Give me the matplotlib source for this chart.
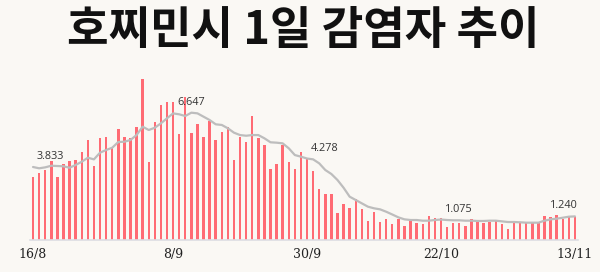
import matplotlib
matplotlib.use("Agg")
import matplotlib.pyplot as plt
import numpy as np

title = "호찌민시 1일 감염자 추이"

# daily cases, 16/8 .. 13/11 (90 days)
daily_cases = [
    3325, 3535, 3660, 4165, 3325, 4005, 4165, 4200, 4605, 5250,
    3885, 5340, 5425, 4815, 5830, 5390, 5355, 5915, 8450, 4080,
    6180, 7090, 7260, 7260, 5550, 7525, 5600, 6105, 5390, 6250,
    5250, 5685, 5930, 4200, 5425, 5130, 6510, 5370, 4990, 3745,
    4005, 5005, 4110, 3745, 4635, 4290, 3640, 2695, 2415, 2415,
    1435, 1890, 1680, 2135, 1645, 1015, 1485, 960, 1120, 840,
    1085, 735, 1000, 910, 855, 1260, 1170, 1140, 665, 910,
    910, 735, 1085, 960, 910, 960, 980, 840, 595, 910,
    910, 875, 910, 875, 1260, 1190, 1330, 1120, 1275, 1225,
]

# 7-day average line
avg_line = [
    3833, 3765, 3815, 3900, 3885, 3870, 3795, 3940, 4110, 4320,
    4235, 4585, 4725, 4845, 5145, 5160, 5250, 5510, 5950, 5775,
    5895, 6125, 6390, 6647, 6600, 6510, 6685, 6650, 6475, 6300,
    6075, 6040, 5865, 5635, 5510, 5475, 5510, 5510, 5340, 5130,
    5110, 5075, 4815, 4460, 4375, 4278, 4235, 4025, 3675, 3465,
    3150, 2745, 2275, 2100, 1925, 1750, 1665, 1610, 1485, 1340,
    1190, 1085, 1050, 1050, 1015, 1015, 1050, 1075, 1050, 1035,
    1035, 1015, 1015, 1000, 1000, 1015, 1015, 980, 945, 945,
    930, 910, 910, 910, 1015, 1085, 1120, 1170, 1225, 1240,
]

tick_idx = [0, 23, 45, 67, 89]
tick_labels = ["16/8", "8/9", "30/9", "22/10", "13/11"]
label_idx = [0, 23, 45, 67, 89]
label_texts = ["3.833", "6.647", "4.278", "1.075", "1.240"]

bg = "#faf8f4"
fig = plt.figure(figsize=(6.0, 2.72), dpi=100, facecolor=bg)
ax = fig.add_axes([0.05, 0.1176, 0.9133, 0.625], facecolor=bg)

x = np.arange(len(daily_cases))
ax.bar(x, daily_cases, width=0.4, color="#ff6b74", zorder=2)
ax.plot(x, avg_line, color="#bdbdbd", lw=1.6, zorder=3, solid_capstyle="round")

for i, t in zip(label_idx, label_texts):
    if i == len(x) - 1:
        ha, dx = "right", 3
    else:
        ha, dx = "left", 4
    ax.annotate(t, (i, avg_line[i]), xytext=(dx, 5), textcoords="offset pixels",
                ha=ha, va="bottom", fontsize=7.8, color="#333333",
                family="Open Sans", zorder=4)

ax.set_xlim(-0.5, len(x) - 0.5)
ax.set_ylim(0, 8925)
ax.set_yticks([])
ax.set_xticks(tick_idx)
ax.set_xticklabels(tick_labels, family="DejaVu Serif", fontsize=9, color="#222222")
ax.tick_params(axis="x", length=0, pad=6)
for s in ["top", "right", "left"]:
    ax.spines[s].set_visible(False)
ax.spines["bottom"].set_color("#dcdde3")
ax.spines["bottom"].set_linewidth(1.2)

fig.text(0.505, 0.885, title, ha="center", va="center", fontsize=32.5,
         fontweight="bold", family=["Noto Sans CJK KR", "DejaVu Sans"], color="#111111")

fig.savefig("out.png", dpi=100, facecolor=bg)
